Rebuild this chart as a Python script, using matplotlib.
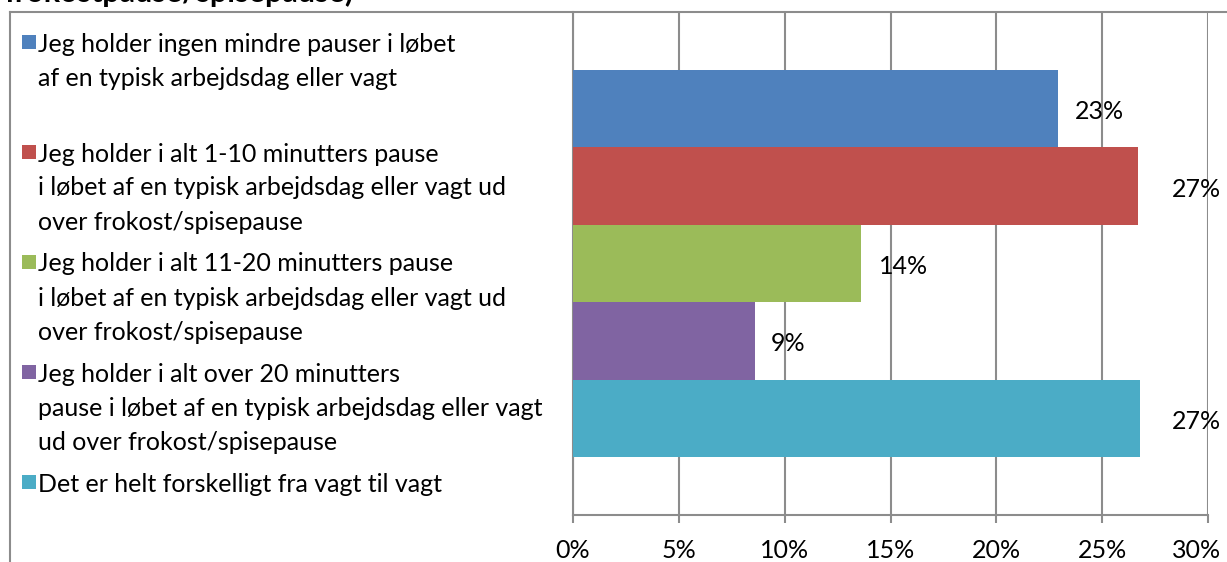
import matplotlib
matplotlib.use("Agg")
import matplotlib.pyplot as plt
from matplotlib.patches import Rectangle
from matplotlib.lines import Line2D

# ---- data ----
categories = [
    "Jeg holder ingen mindre pauser i løbet\naf en typisk arbejdsdag eller vagt",
    "Jeg holder i alt 1-10 minutters pause\ni løbet af en typisk arbejdsdag eller vagt ud\nover frokost/spisepause",
    "Jeg holder i alt 11-20 minutters pause\ni løbet af en typisk arbejdsdag eller vagt ud\nover frokost/spisepause",
    "Jeg holder i alt over 20 minutters\npause i løbet af en typisk arbejdsdag eller vagt\nud over frokost/spisepause",
    "Det er helt forskelligt fra vagt til vagt",
]
values = [22.9, 26.7, 13.6, 8.6, 26.8]
value_labels = ["23%", "27%", "14%", "9%", "27%"]
xticks = [0, 5, 10, 15, 20, 25, 30]
xtick_labels = ["0%", "5%", "10%", "15%", "20%", "25%", "30%"]
title_tail = "frokostpause/spisepause)"

# ---- style ----
colors = ["#4F81BD", "#C0504D", "#9BBB59", "#8064A2", "#4BACC6"]
label_offsets_px = [17, 34, 18, 16, 32]
FONT = "Lato"
FS = 18
GRID = "#8C8C8C"

W, H = 1227, 562
fig = plt.figure(figsize=(W / 100, H / 100), dpi=100)
fig.patch.set_facecolor("white")

ax = fig.add_axes([573 / W, 1 - 515 / H, (1208 - 573) / W, (515 - 12) / H])
ypos = list(range(len(values)))
ax.barh(ypos, values, height=1.0, color=colors, zorder=3)
ax.set_xlim(0, 30)
ax.set_ylim(len(values) - 0.5 + 0.75, -0.5 - 0.75)

# last tick label is drawn separately, nudged inward so it stays inside the image
ax.set_xticks(xticks)
ax.set_xticklabels(xtick_labels[:-1] + [""], fontsize=FS, family=FONT)
ax.annotate(xtick_labels[-1], xy=(xticks[-1], 0), xycoords=ax.get_xaxis_transform(),
            xytext=(-11, -35), textcoords="offset pixels", ha="center", va="center",
            fontsize=FS, family=FONT)
ax.set_yticks([])
ax.xaxis.grid(True, color=GRID, linewidth=1.5, zorder=0)
ax.tick_params(axis="x", direction="out", length=6, width=1.5, color=GRID, pad=11)
for s in ["top", "right"]:
    ax.spines[s].set_visible(False)
for s in ["left", "bottom"]:
    ax.spines[s].set_color(GRID)
    ax.spines[s].set_linewidth(1.5)

for y, v, lab, off in zip(ypos, values, value_labels, label_offsets_px):
    ax.annotate(lab, xy=(v, y), xytext=(off, -3), textcoords="offset pixels",
                ha="left", va="center", fontsize=FS, family=FONT, zorder=4)

# outer chart frame (top and left)
fig.add_artist(Line2D([10 / W, 1.0], [1 - 12 / H, 1 - 12 / H], transform=fig.transFigure,
                      color=GRID, linewidth=1.5))
fig.add_artist(Line2D([10 / W, 10 / W], [1 - 12 / H, 0.0], transform=fig.transFigure,
                      color=GRID, linewidth=1.5))

# title tail (cut off by the top edge, as in the source image)
fig.text(4 / W, 1 - 2 / H, title_tail, fontsize=22, fontweight="bold", family=FONT,
         ha="left", va="baseline")

# legend (manual, Excel-style equal slots)
entry_top = 42
slot = 110
line_step = 34
for i, (cat, col) in enumerate(zip(categories, colors)):
    y0 = entry_top + slot * i
    fig.add_artist(Rectangle((22 / W, 1 - (y0 + 7) / H), 14 / W, 14 / H,
                             transform=fig.transFigure, facecolor=col, edgecolor="none"))
    for k, line in enumerate(cat.split("\n")):
        fig.text(38 / W, 1 - (y0 + line_step * k) / H, line, fontsize=FS, family=FONT,
                 ha="left", va="center_baseline")

fig.savefig("out.png", dpi=100, facecolor="white")
